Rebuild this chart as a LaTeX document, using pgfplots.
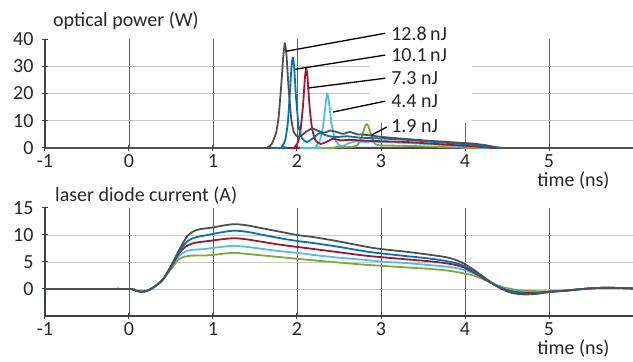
\documentclass[border=0pt]{standalone}
\usepackage{pgfplots}
\pgfplotsset{compat=1.18}
\usepackage{fontspec}
\setmainfont{Carlito}
\definecolor{cgray}{RGB}{80,80,80}
\definecolor{cblue}{RGB}{0,114,189}
\definecolor{cred}{RGB}{162,20,47}
\definecolor{clblue}{RGB}{77,190,238}
\definecolor{cgreen}{RGB}{119,172,48}
\definecolor{cpurple}{RGB}{126,47,142}
\definecolor{gridv}{RGB}{95,95,95}
\definecolor{gridh}{RGB}{200,200,200}
\definecolor{axiscol}{RGB}{60,65,72}
\definecolor{textcol}{RGB}{38,38,38}
\pgfplotsset{
  myaxis/.style={
    scale only axis, width=588pt,
    xmin=-1, xmax=6, xtick={-1,0,1,2,3,4,5},
    axis x line*=bottom, axis y line*=left,
    axis line style={-, line width=1.8pt, axiscol},
    tick align=center, major tick length=6pt,
    tick style={line width=1pt, axiscol},
    grid=major,
    x grid style={gridv, line width=0.8pt},
    y grid style={gridh, line width=0.8pt},
    extra tick style={grid=none},
    font=\fontsize{20}{24}\selectfont,
    /pgf/number format/assume math mode=true,
    ticklabel style={text=textcol},
    yticklabel style={xshift=-5pt},
    clip=false,
    every axis plot/.append style={line width=1.8pt, line join=round},
  }
}
\begin{document}
\begin{tikzpicture}
\useasboundingbox (0pt,0pt) rectangle (633pt,362pt);
% ---------------- optical power ----------------
\begin{axis}[myaxis, at={(45pt,214pt)}, anchor=south west, height=109pt,
  ymin=0, ymax=40, ytick={0,10,20,30}, extra y ticks={40}]
\fill[white] (axis cs:2.87,9.2) rectangle (axis cs:4.08,40);
\addplot[cpurple, line width=1.4pt] coordinates {(2.5,0) (2.6,0.2) (3.8,0.2) (4.0,0)};
\addplot[cgreen, smooth, tension=0.3] coordinates {
(-1,0) (2.3,0) (2.45,0.3) (2.65,0.4) (2.72,1.0) (2.77,4) (2.81,8) (2.83,8.8) (2.85,8) (2.89,4) (2.93,1.5) (2.98,1.0) (3.1,0.9) (3.4,0.7) (3.7,0.4) (4.0,0.1) (4.1,0) (6,0)};
\addplot[clblue, smooth, tension=0.3] coordinates {
(-1,0) (2.15,0) (2.22,0.5) (2.27,2.5) (2.31,8) (2.34,16) (2.36,20.1) (2.38,17) (2.41,9) (2.45,3.5) (2.5,1.0) (2.55,0.8) (2.62,1.8) (2.7,2.4) (2.8,2.2) (2.9,2.3) (3.1,2.1) (3.4,1.7) (3.7,1.2) (4.0,0.6) (4.2,0.1) (4.3,0) (6,0)};
\addplot[cred, smooth, tension=0.3] coordinates {
(-1,0) (1.9,0) (1.97,0.3) (2.01,2) (2.04,6) (2.07,15) (2.095,26) (2.11,29.3) (2.125,26) (2.15,15) (2.18,7) (2.22,2.8) (2.28,1.5) (2.35,2.2) (2.43,3.4) (2.52,2.8) (2.63,3.0) (2.8,2.7) (3.0,2.5) (3.3,2.2) (3.6,1.6) (3.9,1.0) (4.1,0.6) (4.3,0.1) (4.4,0) (6,0)};
\addplot[cblue, smooth, tension=0.3] coordinates {
(-1,0) (1.75,0) (1.82,0.5) (1.86,3) (1.89,9) (1.915,20) (1.935,30) (1.95,33.3) (1.965,30) (1.99,18) (2.02,8) (2.06,3.5) (2.12,2.2) (2.2,3.8) (2.27,5.5) (2.35,4.6) (2.45,4.0) (2.6,4.3) (2.75,3.8) (3.0,3.5) (3.3,3.0) (3.6,2.3) (3.9,1.6) (4.1,1.1) (4.3,0.4) (4.45,0) (6,0)};
\addplot[cgray, smooth, tension=0.3] coordinates {
(-1,0) (1.6,0) (1.65,0.3) (1.7,1.5) (1.75,5.5) (1.78,11) (1.81,22) (1.835,33) (1.855,38.5) (1.875,34) (1.9,22) (1.93,11) (1.96,6) (2.0,4.2) (2.05,4.5) (2.1,5.8) (2.18,7.2) (2.25,6.3) (2.32,5.6) (2.4,6.4) (2.48,5.8) (2.55,5.2) (2.63,5.9) (2.72,5.0) (2.8,4.9) (3.0,4.1) (3.3,3.3) (3.6,2.6) (3.9,2.0) (4.1,1.6) (4.25,1.0) (4.35,0.4) (4.45,0.05) (4.6,0) (6,0)};
\draw[black, line width=1.3pt] (axis cs:3.05,42.1) -- (axis cs:1.87,35.5);
\draw[black, line width=1.3pt] (axis cs:3.05,34.1) -- (axis cs:1.98,28.9);
\draw[black, line width=1.3pt] (axis cs:3.05,25.6) -- (axis cs:2.13,22.0);
\draw[black, line width=1.3pt] (axis cs:3.05,17.2) -- (axis cs:2.43,13.2);
\draw[black, line width=1.3pt] (axis cs:3.07,7.7) -- (axis cs:2.89,4.8);
\node[anchor=west, text=textcol, inner sep=0pt] at (axis cs:3.12,42.1) {12.8\,nJ};
\node[anchor=west, text=textcol, inner sep=0pt] at (axis cs:3.12,34.1) {10.1\,nJ};
\node[anchor=west, text=textcol, inner sep=0pt] at (axis cs:3.12,25.6) {7.3 nJ};
\node[anchor=west, text=textcol, inner sep=0pt] at (axis cs:3.12,17.2) {4.4 nJ};
\node[anchor=west, text=textcol, inner sep=0pt] at (axis cs:3.12,8.0) {1.9 nJ};
\node[anchor=base west, text=textcol, inner sep=0pt] at (axis cs:4.86,0) [yshift=-39pt] {time (ns)};
\end{axis}
% ---------------- laser diode current ----------------
\begin{axis}[myaxis, at={(45pt,46pt)}, anchor=south west, height=108pt,
  ymin=-5, ymax=15, ytick={0,5,10}, extra y ticks={15}]
\addplot[cgreen, smooth, tension=0.5] coordinates {
(-1,0) (-0.5,0) (0,0) (0.08,-0.3) (0.15,-0.5) (0.22,-0.3) (0.3,0.4) (0.4,1.7)
(0.5,3.7) (0.6,5.6) (0.7,6.1) (0.8,6.2) (0.9,6.2) (1.0,6.3) (1.1,6.5) (1.25,6.7) (1.4,6.5) (1.6,6.2) (1.8,5.9) (2.0,5.6) (2.2,5.3) (2.5,4.9) (2.8,4.5) (3.0,4.3) (3.3,4.0) (3.6,3.7) (3.8,3.4) (3.95,3.0) (4.1,2.5) (4.25,1.6) (4.4,0.6) (4.55,0.0) (4.7,-0.3) (4.85,-0.4) (5.0,-0.4)
(5.2,-0.3) (5.4,0) (5.6,0.2) (5.8,0.2) (6.0,0.1)};
\addplot[clblue, smooth, tension=0.5] coordinates {
(-1,0) (-0.5,0) (0,0) (0.08,-0.3) (0.15,-0.5) (0.22,-0.3) (0.3,0.4) (0.4,1.7)
(0.5,3.9) (0.6,6.2) (0.7,7.1) (0.8,7.3) (0.9,7.4) (1.0,7.6) (1.1,7.8) (1.25,8.0) (1.4,7.8) (1.6,7.4) (1.8,7.0) (2.0,6.7) (2.2,6.3) (2.5,5.8) (2.8,5.4) (3.0,5.1) (3.3,4.8) (3.6,4.4) (3.8,4.1) (3.95,3.7) (4.1,2.9) (4.25,1.7) (4.4,0.5) (4.55,-0.3) (4.7,-0.6) (4.85,-0.6) (5.0,-0.5)
(5.2,-0.3) (5.4,0) (5.6,0.2) (5.8,0.2) (6.0,0.1)};
\addplot[cred, smooth, tension=0.5] coordinates {
(-1,0) (-0.5,0) (0,0) (0.08,-0.3) (0.15,-0.5) (0.22,-0.3) (0.3,0.4) (0.4,1.7)
(0.5,4.0) (0.6,6.7) (0.7,8.1) (0.8,8.6) (0.9,8.8) (1.0,9.0) (1.1,9.2) (1.25,9.4) (1.4,9.2) (1.6,8.7) (1.8,8.2) (2.0,7.8) (2.2,7.4) (2.5,6.8) (2.8,6.2) (3.0,5.9) (3.3,5.5) (3.6,5.1) (3.8,4.7) (3.95,4.2) (4.1,3.1) (4.25,1.7) (4.4,0.4) (4.55,-0.4) (4.7,-0.7) (4.85,-0.7) (5.0,-0.5)
(5.2,-0.3) (5.4,0) (5.6,0.2) (5.8,0.2) (6.0,0.1)};
\addplot[cblue, smooth, tension=0.5] coordinates {
(-1,0) (-0.5,0) (0,0) (0.08,-0.3) (0.15,-0.5) (0.22,-0.3) (0.3,0.4) (0.4,1.7)
(0.5,4.1) (0.6,7.0) (0.7,8.9) (0.8,9.6) (0.9,9.9) (1.0,10.2) (1.1,10.5) (1.25,10.8) (1.4,10.6) (1.6,10.0) (1.8,9.4) (2.0,8.9) (2.2,8.5) (2.5,7.8) (2.8,7.0) (3.0,6.6) (3.3,6.1) (3.6,5.6) (3.8,5.1) (3.95,4.5) (4.1,3.3) (4.25,1.8) (4.4,0.4) (4.55,-0.5) (4.7,-0.8) (4.85,-0.8) (5.0,-0.5)
(5.2,-0.3) (5.4,0) (5.6,0.2) (5.8,0.2) (6.0,0.1)};
\addplot[cgray, smooth, tension=0.5] coordinates {
(-1,0) (-0.5,0) (0,0) (0.08,-0.3) (0.15,-0.5) (0.22,-0.3) (0.3,0.4) (0.4,1.7)
(0.5,4.3) (0.6,7.3) (0.7,9.9) (0.8,10.9) (0.9,11.2) (1.0,11.4) (1.1,11.7) (1.25,12.0) (1.4,11.8) (1.6,11.2) (1.8,10.6) (2.0,10.0) (2.2,9.6) (2.5,8.8) (2.8,7.9) (3.0,7.4) (3.3,6.9) (3.6,6.3) (3.8,5.8) (3.95,5.0) (4.1,3.6) (4.25,1.9) (4.4,0.3) (4.55,-0.7) (4.7,-1.0) (4.85,-0.9) (5.0,-0.6)
(5.2,-0.3) (5.4,0) (5.6,0.2) (5.8,0.2) (6.0,0.1)};
\node[anchor=base west, text=textcol, inner sep=0pt] at (axis cs:4.86,-5) [yshift=-39pt] {time (ns)};
\end{axis}
\node[anchor=base west, text=textcol, inner sep=0pt, font=\fontsize{20}{24}\selectfont] at (53pt,335pt) {optical power (W)};
\node[anchor=base west, text=textcol, inner sep=0pt, font=\fontsize{20}{24}\selectfont] at (55pt,160pt) {laser diode current (A)};
\end{tikzpicture}
\end{document}
